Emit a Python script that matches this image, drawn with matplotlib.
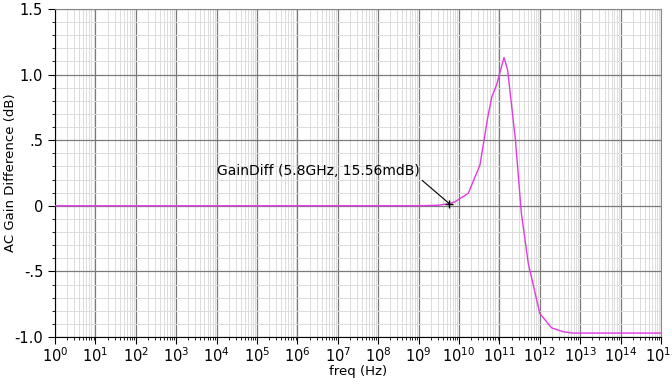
import matplotlib
matplotlib.use("Agg")
import matplotlib.pyplot as plt
from matplotlib.ticker import LogLocator, FixedLocator, FixedFormatter, MultipleLocator

# frequency points (Hz) and gain difference (dB)
freq = [1e0, 1e9, 3e9, 5.8e9, 8e9, 1.7e10, 3.3e10, 5.2e10, 6.5e10, 8.5e10,
        1.3e11, 1.6e11, 2.5e11, 3.5e11, 5.2e11, 1e12, 1.95e12, 3.8e12,
        6.2e12, 1e15]
gain_diff = [0.0, 0.0005, 0.004, 0.0156, 0.031, 0.095, 0.31, 0.68, 0.83, 0.92,
             1.13, 1.035, 0.50, -0.057, -0.44, -0.82, -0.93, -0.96,
             -0.97, -0.97]

y_ticks = [-1.0, -0.5, 0.0, 0.5, 1.0, 1.5]
y_tick_labels = ["-1.0", "-.5", "0", ".5", "1.0", "1.5"]

marker_freq = 5.8e9
marker_val = 0.0156
marker_text = "GainDiff (5.8GHz, 15.56mdB)"

fig = plt.figure(figsize=(6.72, 3.84), dpi=100)
ax = fig.add_axes([0.0818, 0.1224, 0.9018, 0.8542])

ax.plot(freq, gain_diff, color="#e03ae0", lw=1.0, zorder=3)
ax.set_xscale("log")
ax.set_xlim(1e0, 1e15)
ax.set_ylim(-1.0, 1.5)

ax.xaxis.set_major_locator(LogLocator(base=10, numticks=20))
ax.xaxis.set_minor_locator(LogLocator(base=10, subs=range(2, 10), numticks=200))
ax.yaxis.set_major_locator(FixedLocator(y_ticks))
ax.yaxis.set_major_formatter(FixedFormatter(y_tick_labels))
ax.yaxis.set_minor_locator(MultipleLocator(0.1))

ax.grid(which="major", color="#7a7a7a", lw=0.9)
ax.grid(which="minor", color="#dcdcdc", lw=0.7)
ax.set_axisbelow(True)

ax.tick_params(which="both", direction="out", top=False, right=False,
               labelsize=10.5, colors="black")
ax.tick_params(which="major", length=5)
ax.tick_params(which="minor", length=2.5)
ax.tick_params(axis="x", pad=2)
for s in ["top", "right"]:
    ax.spines[s].set_color("#888888")

ax.set_xlabel("freq (Hz)", fontsize=9.5, labelpad=0)
ax.set_ylabel("AC Gain Difference (dB)", fontsize=9.5)
ax.yaxis.set_label_coords(-0.062, 0.5)

ax.plot([marker_freq], [marker_val], marker="+", color="black", ms=6, mew=1, zorder=4)
ax.annotate(marker_text, xy=(marker_freq, marker_val),
            xytext=(1.0e4, 0.235), fontsize=10,
            arrowprops=dict(arrowstyle="-", color="black", lw=0.8,
                            shrinkA=0, shrinkB=0, relpos=(1.0, 0.0)),
            zorder=5)

fig.savefig("out.png", dpi=100)
